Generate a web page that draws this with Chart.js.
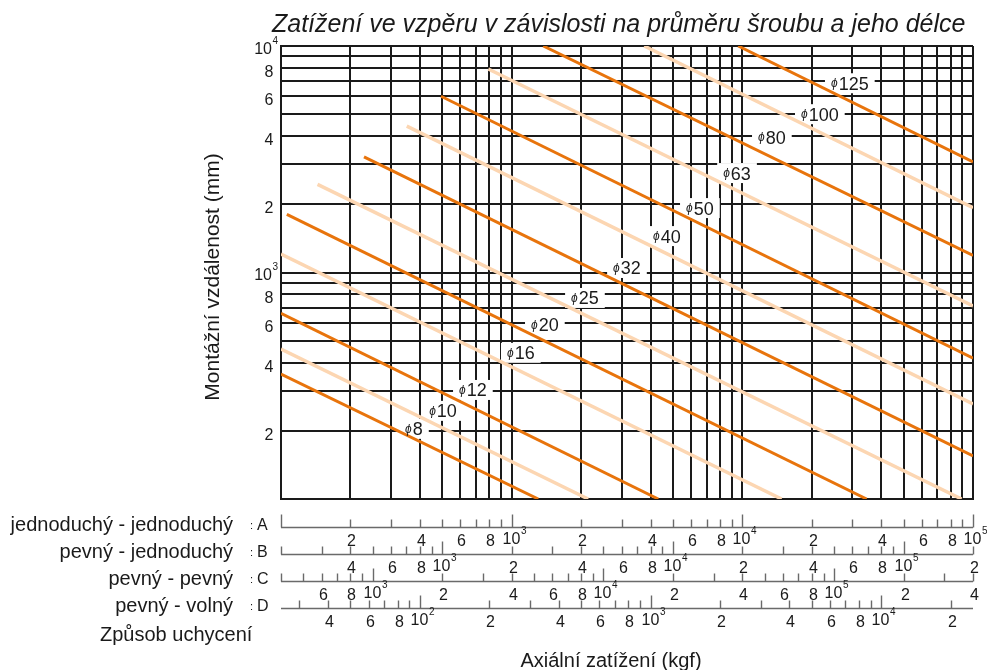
<!DOCTYPE html>
<html lang="cs">
<head>
    <meta charset="UTF-8">
    <title>Zatížení ve vzpěru</title>
    <script src="https://cdn.jsdelivr.net/npm/chart.js"></script>
    <style>
        html, body { margin: 0; padding: 0; background: #fff; }
        #wrap { width: 987px; height: 670px; }
    </style>
</head>
<body>
    <div id="wrap"><canvas id="chart" width="987" height="670"></canvas></div>

    <script>
        // bolt diameters and the two ends of each line (load on scale A in kgf, distance in mm)
        const diameters = ['8', '10', '12', '16', '20', '25', '32', '40', '50', '63', '80', '100', '125'];
        const startLoad = [100, 100, 100, 100, 106, 144, 229, 351, 494, 792, 1371, 3756, 9594];
        const startLen  = [356, 459, 661, 1207, 1806, 2448, 3240, 4426, 6000, 7916, 10000, 10000, 10000];
        const endLoad   = [1304, 2147, 4321, 14800, 34580, 89240, 100000, 100000, 100000, 100000, 100000, 100000, 100000];
        const endLen    = [100, 100, 100, 100, 100, 100, 155, 263, 419, 711, 1190, 1931, 3080];

        // where the diameter labels sit
        const labelLoad = [377, 504, 679, 1096, 1393, 2078, 3161, 4710, 6546, 9484, 13430, 21680, 29240];
        const labelLen  = [204, 245, 303, 442, 587, 772, 1047, 1448, 1925, 2748, 3957, 5000, 6847];

        // y axis labels
        const yLabelValues = [200, 400, 600, 800, 1000, 2000, 4000, 6000, 8000, 10000];
        const yLabelTexts  = ['2', '4', '6', '8', '10^3', '2', '4', '6', '8', '10^4'];

        // mounting types: each bottom scale is scale A multiplied by a factor
        const mountNames   = ['jednoduchý - jednoduchý', 'pevný - jednoduchý', 'pevný - pevný', 'pevný - volný'];
        const mountLetters = ['A', 'B', 'C', 'D'];
        const mountFactors = [1, 2, 4, 0.25];
        const tickMantissas  = [1, 2, 3, 4, 5, 6, 7, 8, 9];
        const labelMantissas = [1, 2, 4, 6, 8];

        const DARK = '#e8740c';
        const LIGHT = '#fcd6b2';
        const INK = '#1a1a1a';
        const FONT = "'Liberation Sans', Arial, Helvetica, sans-serif";

        function gridValues(lo, hi) {
            const out = [];
            for (let e = Math.round(Math.log10(lo)); e < Math.round(Math.log10(hi)); e++) {
                tickMantissas.forEach(m => out.push({ value: Math.round(m * Math.pow(10, e)) }));
            }
            out.push({ value: hi });
            return out;
        }

        // "10" plus a small raised exponent; align is where x sits: 'center' of "10" or 'right' of "10"
        function drawPower(ctx, text, x, y, size, align) {
            const [base, exp] = text.split('^');
            ctx.font = size + 'px ' + FONT;
            const w = ctx.measureText(base).width;
            const left = align === 'right' ? x - w : x - w / 2;
            ctx.textAlign = 'left';
            ctx.fillText(base, left, y);
            ctx.font = Math.round(size * 0.62) + 'px ' + FONT;
            ctx.fillText(exp, left + w + 0.5, y - size * 0.6);
        }

        function labelParts(ctx, d) {
            ctx.font = 'italic 12px ' + FONT;
            const wp = ctx.measureText('ϕ').width;
            ctx.font = '18px ' + FONT;
            const wd = ctx.measureText(d).width;
            return { wp, wd, w: wp + 1 + wd };
        }

        const diameterLabels = {
            id: 'diameterLabels',
            beforeDatasetsDraw(chart) {
                const { ctx, scales: { x, y } } = chart;
                ctx.save();
                ctx.fillStyle = '#fff';
                diameters.forEach((d, i) => {
                    const px = x.getPixelForValue(labelLoad[i]);
                    const py = y.getPixelForValue(labelLen[i]);
                    const { w } = labelParts(ctx, d);
                    ctx.fillRect(px - w / 2 - 6, py - 10, w + 12, 20);
                });
                ctx.restore();
            },
            afterDatasetsDraw(chart) {
                const { ctx, scales: { x, y } } = chart;
                ctx.save();
                ctx.fillStyle = INK;
                ctx.textBaseline = 'alphabetic';
                ctx.textAlign = 'left';
                diameters.forEach((d, i) => {
                    const px = x.getPixelForValue(labelLoad[i]);
                    const py = y.getPixelForValue(labelLen[i]);
                    const { wp, w } = labelParts(ctx, d);
                    const left = px - w / 2;
                    ctx.font = 'italic 12px ' + FONT;
                    ctx.fillText('ϕ', left, py + 4);
                    ctx.font = '18px ' + FONT;
                    ctx.fillText(d, left + wp + 1, py + 6.5);
                });
                ctx.restore();
            }
        };

        const textsAndScales = {
            id: 'textsAndScales',
            afterDraw(chart) {
                const { ctx, chartArea: area, scales: { x, y } } = chart;
                ctx.save();
                ctx.fillStyle = INK;
                ctx.textBaseline = 'alphabetic';

                // title
                ctx.font = 'italic 25px ' + FONT;
                ctx.textAlign = 'left';
                ctx.fillText('Zatížení ve vzpěru v závislosti na průměru šroubu a jeho délce', 272, 32);

                // y tick labels
                yLabelValues.forEach((v, i) => {
                    const py = y.getPixelForValue(v);
                    const t = yLabelTexts[i];
                    if (t.includes('^')) {
                        drawPower(ctx, t, area.left - 9, py + 7.5, 16, 'right');
                    } else {
                        ctx.font = '16px ' + FONT;
                        ctx.textAlign = 'right';
                        ctx.fillText(t, area.left - 7.5, py + 9);
                    }
                });

                // y title
                ctx.save();
                ctx.translate(213, 277);
                ctx.rotate(-Math.PI / 2);
                ctx.font = '21px ' + FONT;
                ctx.textAlign = 'center';
                ctx.textBaseline = 'middle';
                ctx.fillText('Montážní vzdálenost (mm)', 0, 0);
                ctx.restore();

                // bottom load scales A-D
                mountLetters.forEach((letter, k) => {
                    const f = mountFactors[k];
                    const lineY = Math.round(area.bottom + 27.5 + k * 27.2) + 0.5;
                    ctx.strokeStyle = '#6a6a6a';
                    ctx.lineWidth = 1.4;
                    ctx.beginPath();
                    ctx.moveTo(area.left, lineY);
                    ctx.lineTo(area.right, lineY);
                    ctx.stroke();

                    const lo = x.min * f, hi = x.max * f;
                    for (let e = Math.floor(Math.log10(lo)); e <= Math.ceil(Math.log10(hi)); e++) {
                        tickMantissas.forEach(m => {
                            const v = m * Math.pow(10, e);
                            if (v < lo * 0.999 || v > hi * 1.001) return;
                            const px = Math.round(x.getPixelForValue(v / f)) + 0.5;
                            const len = m === 1 ? 13 : 8;
                            ctx.beginPath();
                            ctx.moveTo(px, lineY);
                            ctx.lineTo(px, lineY - len);
                            ctx.stroke();
                            if (!labelMantissas.includes(m) || px < area.left + 4) return;
                            if (m === 1) {
                                drawPower(ctx, '10^' + e, px - 1, lineY + 16.5, 16, 'center');
                            } else {
                                ctx.font = '16px ' + FONT;
                                ctx.textAlign = 'center';
                                ctx.fillText(String(m), px + 1, lineY + 18.5);
                            }
                        });
                    }

                    ctx.font = '20px ' + FONT;
                    ctx.textAlign = 'right';
                    ctx.fillText(mountNames[k], 233, lineY + 3);
                    ctx.font = '11px ' + FONT;
                    ctx.textAlign = 'left';
                    ctx.fillText(':', 250, lineY + 1.5);
                    ctx.font = '16px ' + FONT;
                    ctx.fillText(letter, 257, lineY + 2.5);
                });

                ctx.font = '20px ' + FONT;
                ctx.textAlign = 'left';
                ctx.fillText('Způsob uchycení', 100, 641);

                ctx.font = '20px ' + FONT;
                ctx.textAlign = 'center';
                ctx.fillText('Axiální zatížení (kgf)', 611, 667);
                ctx.restore();
            }
        };

        const datasets = diameters.map((d, i) => ({
            label: 'ϕ' + d,
            data: [{ x: startLoad[i], y: startLen[i] }, { x: endLoad[i], y: endLen[i] }],
            borderColor: i % 2 === 0 ? DARK : LIGHT,
            borderWidth: i % 2 === 0 ? 3 : 3.5,
            pointRadius: 0,
            tension: 0
        }));

        const axisGrid = { color: INK, lineWidth: 2, drawTicks: false };

        new Chart(document.getElementById('chart'), {
            type: 'line',
            data: { datasets },
            options: {
                responsive: false,
                animation: false,
                layout: { padding: { left: 281, right: 14, top: 46, bottom: 171 } },
                plugins: { legend: { display: false }, tooltip: { enabled: false } },
                scales: {
                    x: {
                        type: 'logarithmic', min: 100, max: 100000,
                        afterBuildTicks: s => { s.ticks = gridValues(100, 100000); },
                        afterFit: s => { s.height = 0; },
                        ticks: { display: false },
                        grid: axisGrid,
                        border: { color: INK, width: 2 }
                    },
                    y: {
                        type: 'logarithmic', min: 100, max: 10000,
                        afterBuildTicks: s => { s.ticks = gridValues(100, 10000); },
                        afterFit: s => { s.width = 0; },
                        ticks: { display: false },
                        grid: axisGrid,
                        border: { color: INK, width: 2 }
                    }
                }
            },
            plugins: [diameterLabels, textsAndScales]
        });
    </script>
</body>
</html>
